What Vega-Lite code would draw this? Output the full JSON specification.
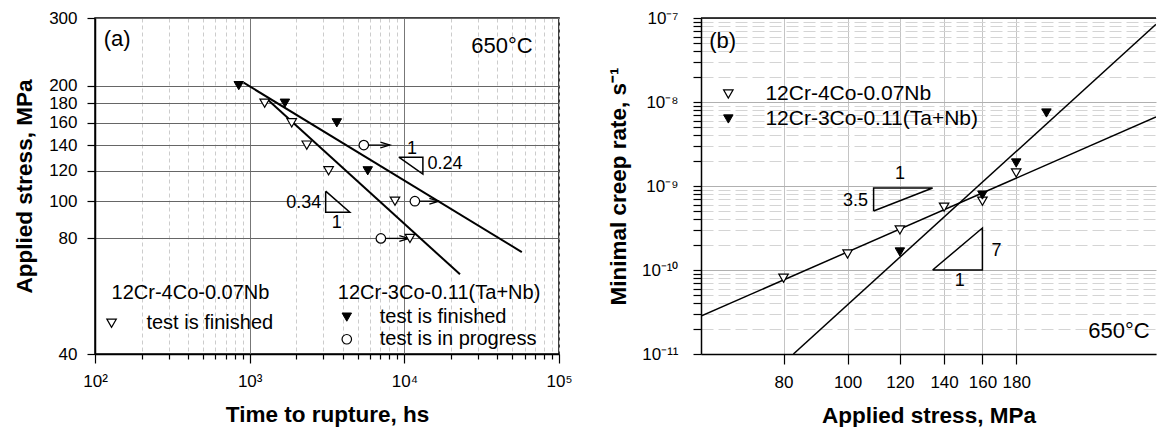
{
 "$schema": "https://vega.github.io/schema/vega-lite/v6.json",
 "padding": {"left": 12, "top": 8, "right": 0, "bottom": 0},
 "spacing": 34,
 "config": {
  "font": "Liberation Sans",
  "view": {"stroke": null},
  "axis": {"domainColor": "black", "domainWidth": 1.5, "tickColor": "black", "tickWidth": 1.2, "labelColor": "black", "labelFontSize": 17, "titleColor": "black", "titleFontSize": 22.5, "titleFontWeight": "bold", "labelFlush": false, "labelOverlap": false}
 },
 "datasets": {
  "fitA": [
   {"id": "3Co", "t": 914, "s": 203.6}, {"id": "3Co", "t": 57500, "s": 73.7},
   {"id": "4Co", "t": 1327, "s": 183}, {"id": "4Co", "t": 22900, "s": 64.5}
  ],
  "triA": [
   {"id": "A", "o": 1, "t": 9210, "s": 130.2}, {"id": "A", "o": 2, "t": 13180, "s": 130.2}, {"id": "A", "o": 3, "t": 13180, "s": 117.6}, {"id": "A", "o": 4, "t": 9210, "s": 130.2},
   {"id": "B", "o": 1, "t": 3100, "s": 106.2}, {"id": "B", "o": 2, "t": 3100, "s": 93.6}, {"id": "B", "o": 3, "t": 4440, "s": 93.6}, {"id": "B", "o": 4, "t": 3100, "s": 106.2}
  ],
  "arrowA": [
   {"t": 5470, "t2": 8060, "s": 140}, {"t": 11700, "t2": 16720, "s": 100}, {"t": 7050, "t2": 10690, "s": 80}
  ],
  "ptsA": [
   {"k": "open", "t": 1250, "s": 180}, {"k": "open", "t": 1870, "s": 160}, {"k": "open", "t": 2340, "s": 140}, {"k": "open", "t": 3240, "s": 120}, {"k": "open", "t": 8700, "s": 100}, {"k": "open", "t": 10870, "s": 80},
   {"k": "solid", "t": 850, "s": 200}, {"k": "solid", "t": 1690, "s": 180}, {"k": "solid", "t": 3660, "s": 160}, {"k": "solid", "t": 5800, "s": 120},
   {"k": "circle", "t": 5470, "s": 140}, {"k": "circle", "t": 11700, "s": 100}, {"k": "circle", "t": 7050, "s": 80},
   {"k": "open", "t": 128, "s": 48.1}, {"k": "solid", "t": 4246, "s": 49.9}, {"k": "circle", "t": 4246, "s": 43.7}
  ],
  "noteA": [
   {"label": "1", "t": 11190, "s": 136.5}, {"label": "0.24", "t": 18300, "s": 124.8},
   {"label": "0.34", "t": 2240, "s": 98.8}, {"label": "1", "t": 3655, "s": 87.7}
  ],
  "bigA": [
   {"label": "(a)", "t": 139, "s": 264}, {"label": "650°C", "t": 42760, "s": 254}
  ],
  "legA": [
   {"label": "12Cr-4Co-0.07Nb", "t": 128, "s": 57.6}, {"label": "test is finished", "t": 215, "s": 48.1},
   {"label": "12Cr-3Co-0.11(Ta+Nb)", "t": 3715, "s": 57.6}, {"label": "test is finished", "t": 6937, "s": 49.9},
   {"label": "test is in progress", "t": 6937, "s": 43.7}
  ],
  "fitB": [
   {"id": "4Co", "p": 60, "r": 2.83e-11}, {"id": "4Co", "p": 293, "r": 6.62e-9},
   {"id": "3Co", "p": 82.8, "r": 1e-11}, {"id": "3Co", "p": 293, "r": 8.4e-8}
  ],
  "triB": [
   {"id": "C", "o": 1, "p": 109.5, "r": 5.03e-10}, {"id": "C", "o": 2, "p": 109.5, "r": 9.47e-10}, {"id": "C", "o": 3, "p": 134.5, "r": 9.47e-10}, {"id": "C", "o": 4, "p": 109.5, "r": 5.03e-10},
   {"id": "D", "o": 1, "p": 134.5, "r": 1e-10}, {"id": "D", "o": 2, "p": 160, "r": 1e-10}, {"id": "D", "o": 3, "p": 160, "r": 3.16e-10}, {"id": "D", "o": 4, "p": 134.5, "r": 1e-10}
  ],
  "ptsB": [
   {"k": "open", "p": 80, "r": 8.0e-11}, {"k": "open", "p": 100, "r": 1.55e-10}, {"k": "open", "p": 120, "r": 3.0e-10}, {"k": "open", "p": 140, "r": 5.6e-10}, {"k": "open", "p": 160, "r": 6.6e-10}, {"k": "open", "p": 180, "r": 1.43e-9},
   {"k": "solid", "p": 120, "r": 1.64e-10}, {"k": "solid", "p": 160, "r": 7.8e-10}, {"k": "solid", "p": 180, "r": 1.88e-9}, {"k": "solid", "p": 200, "r": 7.4e-9},
   {"k": "open", "p": 66, "r": 1.245e-8}, {"k": "solid", "p": 66, "r": 6.28e-9}
  ],
  "noteB": [
   {"label": "3.5", "p": 102.8, "r": 6.63e-10}, {"label": "1", "p": 120, "r": 1.39e-9},
   {"label": "7", "p": 168.1, "r": 1.68e-10}, {"label": "1", "p": 147.9, "r": 7.39e-11}
  ],
  "bigB": [
   {"label": "(b)", "p": 64.7, "r": 5.3e-8}, {"label": "650°C", "p": 257.5, "r": 1.88e-11}
  ],
  "legB": [
   {"label": "12Cr-4Co-0.07Nb", "p": 75.1, "r": 1.245e-8}, {"label": "12Cr-3Co-0.11(Ta+Nb)", "p": 75.1, "r": 6.28e-9}
  ],
  "topB": [
   {"p": 60, "p2": 293, "r": 1e-7}
  ]
 },
 "hconcat": [
  {
   "width": 464,
   "height": 336,
   "view": {"stroke": "black", "strokeWidth": 1.5},
   "encoding": {
    "x": {
     "field": "t", "type": "quantitative",
     "scale": {"type": "log", "domain": [100, 100000], "nice": false},
     "axis": {
      "title": "Time to rupture, hs",
      "values": [100, 200, 300, 400, 500, 600, 700, 800, 900, 1000, 2000, 3000, 4000, 5000, 6000, 7000, 8000, 9000, 10000, 20000, 30000, 40000, 50000, 60000, 70000, 80000, 90000, 100000],
      "labelExpr": "datum.value == 100 ? '10²' : datum.value == 1000 ? '10³' : datum.value == 10000 ? '10⁴' : datum.value == 100000 ? '10⁵' : ''",
      "grid": true,
      "gridColor": {"condition": {"test": "datum.value == 1000 || datum.value == 10000", "value": "#777777"}, "value": "#cccccc"},
      "gridDash": {"condition": {"test": "datum.value == 1000 || datum.value == 10000", "value": []}, "value": [4, 3]},
      "tickSize": {"condition": {"test": "datum.value == 100 || datum.value == 1000 || datum.value == 10000 || datum.value == 100000", "value": 9}, "value": 5},
      "labelPadding": 10,
      "titlePadding": 14
     }
    },
    "y": {
     "field": "s", "type": "quantitative",
     "scale": {"type": "log", "domain": [40, 300], "nice": false},
     "axis": {
      "title": "Applied stress, MPa",
      "values": [40, 80, 100, 120, 140, 160, 180, 200, 300],
      "grid": true, "gridColor": "#666666",
      "tickSize": 8, "labelPadding": 10, "titlePadding": 12
     }
    }
   },
   "layer": [
    {"data": {"name": "fitA"}, "mark": {"type": "line", "color": "black", "strokeWidth": 2}, "encoding": {"detail": {"field": "id"}}},
    {"data": {"name": "triA"}, "mark": {"type": "line", "color": "black", "strokeWidth": 1.5}, "encoding": {"detail": {"field": "id"}, "order": {"field": "o"}}},
    {"data": {"name": "arrowA"}, "mark": {"type": "rule", "color": "black", "strokeWidth": 1.3}, "encoding": {"x2": {"field": "t2"}}},
    {"data": {"name": "arrowA"}, "mark": {"type": "point", "shape": "M-1,-0.3L0,0L-1,0.3", "filled": false, "color": "black", "size": 360, "strokeWidth": 1.3, "opacity": 1}, "encoding": {"x": {"field": "t2", "type": "quantitative", "title": "Time to rupture, hs"}}},
    {"data": {"name": "ptsA"}, "transform": [{"filter": "datum.k == 'open'"}], "mark": {"type": "point", "shape": "triangle-down", "filled": true, "fill": "white", "stroke": "black", "strokeWidth": 1.2, "size": 90, "opacity": 1}},
    {"data": {"name": "ptsA"}, "transform": [{"filter": "datum.k == 'solid'"}], "mark": {"type": "point", "shape": "triangle-down", "filled": true, "fill": "black", "stroke": "black", "strokeWidth": 1, "size": 90, "opacity": 1}},
    {"data": {"name": "ptsA"}, "transform": [{"filter": "datum.k == 'circle'"}], "mark": {"type": "point", "shape": "circle", "filled": true, "fill": "white", "stroke": "black", "strokeWidth": 1.2, "size": 90, "opacity": 1}},
    {"data": {"name": "noteA"}, "mark": {"type": "text", "fontSize": 18, "align": "center", "baseline": "middle", "color": "black"}, "encoding": {"text": {"field": "label"}}},
    {"data": {"name": "bigA"}, "mark": {"type": "text", "fontSize": 22, "align": "center", "baseline": "middle", "color": "black"}, "encoding": {"text": {"field": "label"}}},
    {"data": {"name": "legA"}, "mark": {"type": "text", "fontSize": 20, "align": "left", "baseline": "middle", "color": "black"}, "encoding": {"text": {"field": "label"}}}
   ]
  },
  {
   "width": 455,
   "height": 336,
   "encoding": {
    "x": {
     "field": "p", "type": "quantitative",
     "scale": {"type": "log", "domain": [60, 293], "nice": false},
     "axis": {
      "title": "Applied stress, MPa",
      "values": [80, 100, 120, 140, 160, 180],
      "grid": true, "gridColor": "#c4c4c4",
      "tickSize": 10, "labelPadding": 10, "titlePadding": 14
     }
    },
    "y": {
     "field": "r", "type": "quantitative",
     "scale": {"type": "log", "domain": [1e-11, 1e-7], "nice": false},
     "axis": {
      "title": "Minimal creep rate, s⁻¹",
      "values": [1e-11, 2e-11, 3e-11, 4e-11, 5e-11, 6e-11, 7e-11, 8e-11, 9e-11, 1e-10, 2e-10, 3e-10, 4e-10, 5e-10, 6e-10, 7e-10, 8e-10, 9e-10, 1e-9, 2e-9, 3e-9, 4e-9, 5e-9, 6e-9, 7e-9, 8e-9, 9e-9, 1e-8, 2e-8, 3e-8, 4e-8, 5e-8, 6e-8, 7e-8, 8e-8, 9e-8, 1e-7],
      "labelExpr": "abs(log(datum.value)/LN10 - round(log(datum.value)/LN10)) > 0.001 ? '' : round(log(datum.value)/LN10) == -11 ? '10⁻¹¹' : round(log(datum.value)/LN10) == -10 ? '10⁻¹⁰' : round(log(datum.value)/LN10) == -9 ? '10⁻⁹' : round(log(datum.value)/LN10) == -8 ? '10⁻⁸' : '10⁻⁷'",
      "grid": true,
      "gridColor": {"condition": {"test": "abs(log(datum.value)/LN10 - round(log(datum.value)/LN10)) < 0.001", "value": "#b0b0b0"}, "value": "#d4d4d4"},
      "gridDash": {"condition": {"test": "abs(log(datum.value)/LN10 - round(log(datum.value)/LN10)) < 0.001", "value": []}, "value": [12, 5]},
      "tickSize": 8, "labelPadding": 15, "titlePadding": 11
     }
    }
   },
   "layer": [
    {"data": {"name": "topB"}, "mark": {"type": "rule", "color": "black", "strokeWidth": 1.5}, "encoding": {"x2": {"field": "p2"}}},
    {"data": {"name": "fitB"}, "mark": {"type": "line", "color": "black", "strokeWidth": 1.5, "clip": true}, "encoding": {"detail": {"field": "id"}}},
    {"data": {"name": "triB"}, "mark": {"type": "line", "color": "black", "strokeWidth": 1.5}, "encoding": {"detail": {"field": "id"}, "order": {"field": "o"}}},
    {"data": {"name": "ptsB"}, "transform": [{"filter": "datum.k == 'open'"}], "mark": {"type": "point", "shape": "triangle-down", "filled": true, "fill": "white", "stroke": "black", "strokeWidth": 1.2, "size": 90, "opacity": 1}},
    {"data": {"name": "ptsB"}, "transform": [{"filter": "datum.k == 'solid'"}], "mark": {"type": "point", "shape": "triangle-down", "filled": true, "fill": "black", "stroke": "black", "strokeWidth": 1, "size": 90, "opacity": 1}},
    {"data": {"name": "noteB"}, "mark": {"type": "text", "fontSize": 18, "align": "center", "baseline": "middle", "color": "black"}, "encoding": {"text": {"field": "label"}}},
    {"data": {"name": "bigB"}, "mark": {"type": "text", "fontSize": 22, "align": "center", "baseline": "middle", "color": "black"}, "encoding": {"text": {"field": "label"}}},
    {"data": {"name": "legB"}, "mark": {"type": "text", "fontSize": 21, "align": "left", "baseline": "middle", "color": "black"}, "encoding": {"text": {"field": "label"}}}
   ]
  }
 ]
}
